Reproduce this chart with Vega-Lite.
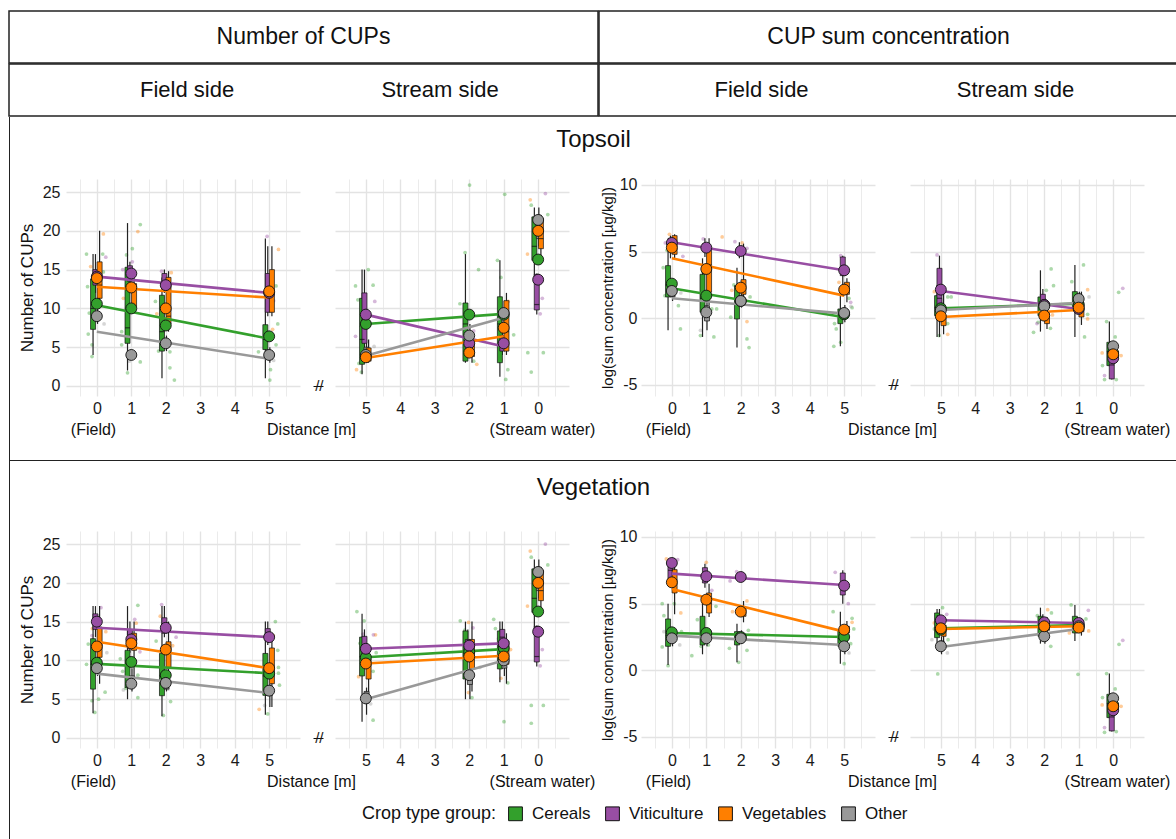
{
"$schema":"https://vega.github.io/schema/vega-lite/v6.json",
"padding":{"left":8,"top":10,"right":0,"bottom":0},
"background":"white",
"spacing":-1,
"config":{
 "font":"Liberation Sans",
 "view":{"stroke":null},
 "concat":{"spacing":0},
 "axis":{"domain":false,"ticks":false,"grid":true,"gridColor":"#e3e3e3","labelFontSize":16,"labelColor":"#1a1a1a","labelPadding":4,"titleFontSize":16,"titleFontWeight":"normal","titleColor":"#111","labelOverlap":false,"labelFlush":false,"labelBound":false}
},
"datasets":{
"pts":[
{"p":"TCF","c":"Cereals","d":-0.3,"v":17},{"p":"TCF","c":"Cereals","d":-0.27,"v":12.8},{"p":"TCF","c":"Cereals","d":-0.22,"v":9.4},{"p":"TCF","c":"Cereals","d":-0.25,"v":6.7},{"p":"TCF","c":"Cereals","d":-0.14,"v":5.3},{"p":"TCF","c":"Cereals","d":-0.14,"v":3.8},{"p":"TCF","c":"Cereals","d":0.17,"v":17},{"p":"TCF","c":"Cereals","d":0.19,"v":14.7},{"p":"TCF","c":"Cereals","d":0.72,"v":7},{"p":"TCF","c":"Cereals","d":0.86,"v":16.9},{"p":"TCF","c":"Cereals","d":1.03,"v":17.7},{"p":"TCF","c":"Cereals","d":0.72,"v":5.3},{"p":"TCF","c":"Cereals","d":0.89,"v":1.7},{"p":"TCF","c":"Cereals","d":1.26,"v":3.1},{"p":"TCF","c":"Cereals","d":1.26,"v":20.8},{"p":"TCF","c":"Cereals","d":1.7,"v":10.9},{"p":"TCF","c":"Cereals","d":2.12,"v":2.35},{"p":"TCF","c":"Cereals","d":2.25,"v":0.77},{"p":"TCF","c":"Cereals","d":2.12,"v":4.4},{"p":"TCF","c":"Cereals","d":1.79,"v":4.5},{"p":"TCF","c":"Cereals","d":4.69,"v":4.4},{"p":"TCF","c":"Cereals","d":5.04,"v":2.1},{"p":"TCF","c":"Cereals","d":5.02,"v":0.77},{"p":"TCF","c":"Cereals","d":5.2,"v":5.3},{"p":"TCF","c":"Cereals","d":5.25,"v":8},{"p":"TCF","c":"Cereals","d":5.2,"v":12.9},
{"p":"TCF","c":"Vegetables","d":0.19,"v":19.6},{"p":"TCF","c":"Vegetables","d":-0.18,"v":15.4},{"p":"TCF","c":"Vegetables","d":1.19,"v":19.9},{"p":"TCF","c":"Vegetables","d":0.77,"v":11.3},{"p":"TCF","c":"Vegetables","d":1.74,"v":9.3},{"p":"TCF","c":"Vegetables","d":2.16,"v":14.6},{"p":"TCF","c":"Vegetables","d":5.27,"v":17.6},{"p":"TCF","c":"Vegetables","d":5.1,"v":7.3},
{"p":"TCF","c":"Viticulture","d":0.26,"v":16.6},{"p":"TCF","c":"Viticulture","d":0.75,"v":15},{"p":"TCF","c":"Viticulture","d":1.03,"v":16},{"p":"TCF","c":"Viticulture","d":1.88,"v":14.8},{"p":"TCF","c":"Viticulture","d":4.94,"v":19.3},{"p":"TCF","c":"Viticulture","d":5.13,"v":11},
{"p":"TCF","c":"Other","d":0.21,"v":8},{"p":"TCF","c":"Other","d":0.94,"v":3.2},{"p":"TCF","c":"Other","d":5.13,"v":3.3},
{"p":"TCS","c":"Cereals","d":5.3,"v":12.9},{"p":"TCS","c":"Cereals","d":5.23,"v":11.1},{"p":"TCS","c":"Cereals","d":5.13,"v":7.7},{"p":"TCS","c":"Cereals","d":5.2,"v":2.9},{"p":"TCS","c":"Cereals","d":5.13,"v":1.8},{"p":"TCS","c":"Cereals","d":4.93,"v":15},{"p":"TCS","c":"Cereals","d":4.79,"v":13},{"p":"TCS","c":"Cereals","d":2.27,"v":10.6},{"p":"TCS","c":"Cereals","d":2.12,"v":17.2},{"p":"TCS","c":"Cereals","d":1.99,"v":25.9},{"p":"TCS","c":"Cereals","d":1.73,"v":15},{"p":"TCS","c":"Cereals","d":1.87,"v":3.2},{"p":"TCS","c":"Cereals","d":1.18,"v":16.2},{"p":"TCS","c":"Cereals","d":1.08,"v":14},{"p":"TCS","c":"Cereals","d":0.97,"v":24.7},{"p":"TCS","c":"Cereals","d":0.88,"v":2.1},{"p":"TCS","c":"Cereals","d":0.94,"v":0.85},{"p":"TCS","c":"Cereals","d":0.71,"v":6.6},{"p":"TCS","c":"Cereals","d":0.3,"v":4.3},{"p":"TCS","c":"Cereals","d":0.2,"v":1.8},{"p":"TCS","c":"Cereals","d":-0.15,"v":4.3},{"p":"TCS","c":"Cereals","d":0.2,"v":23.3},{"p":"TCS","c":"Cereals","d":-0.28,"v":22.1},
{"p":"TCS","c":"Vegetables","d":5.27,"v":2.1},{"p":"TCS","c":"Vegetables","d":1.78,"v":2.8},{"p":"TCS","c":"Vegetables","d":1.08,"v":3.4},{"p":"TCS","c":"Vegetables","d":0.23,"v":24},{"p":"TCS","c":"Vegetables","d":0.31,"v":17},{"p":"TCS","c":"Vegetables","d":0.87,"v":10.9},
{"p":"TCS","c":"Viticulture","d":5.3,"v":6.4},{"p":"TCS","c":"Viticulture","d":4.74,"v":10.9},{"p":"TCS","c":"Viticulture","d":1.87,"v":7.1},{"p":"TCS","c":"Viticulture","d":-0.06,"v":9.3},{"p":"TCS","c":"Viticulture","d":-0.21,"v":24.8},{"p":"TCS","c":"Viticulture","d":-0.12,"v":11.3},
{"p":"TCS","c":"Other","d":4.76,"v":5.1},
{"p":"TLF","c":"Cereals","d":-0.2,"v":1.7},{"p":"TLF","c":"Cereals","d":0.19,"v":0.95},{"p":"TLF","c":"Cereals","d":0.25,"v":-0.8},{"p":"TLF","c":"Cereals","d":-0.14,"v":5.1},{"p":"TLF","c":"Cereals","d":0.83,"v":-1.3},{"p":"TLF","c":"Cereals","d":1.16,"v":0.7},{"p":"TLF","c":"Cereals","d":1.3,"v":0.7},{"p":"TLF","c":"Cereals","d":1.22,"v":-1.4},{"p":"TLF","c":"Cereals","d":1.71,"v":0.08},{"p":"TLF","c":"Cereals","d":1.8,"v":2.5},{"p":"TLF","c":"Cereals","d":2.18,"v":-1.55},{"p":"TLF","c":"Cereals","d":2.24,"v":-2.2},{"p":"TLF","c":"Cereals","d":2.27,"v":1.6},{"p":"TLF","c":"Cereals","d":4.72,"v":-0.4},{"p":"TLF","c":"Cereals","d":4.77,"v":-0.8},{"p":"TLF","c":"Cereals","d":4.9,"v":-1.8},{"p":"TLF","c":"Cereals","d":4.7,"v":-2.1},{"p":"TLF","c":"Cereals","d":5.23,"v":0.8},{"p":"TLF","c":"Cereals","d":5.14,"v":1.5},{"p":"TLF","c":"Cereals","d":-0.25,"v":3.8},{"p":"TLF","c":"Cereals","d":0.9,"v":3.5},
{"p":"TLF","c":"Vegetables","d":-0.07,"v":6.3},{"p":"TLF","c":"Vegetables","d":1.46,"v":6.1},{"p":"TLF","c":"Vegetables","d":2.18,"v":-0.25},{"p":"TLF","c":"Vegetables","d":1.74,"v":2.1},{"p":"TLF","c":"Vegetables","d":2.04,"v":5.65},{"p":"TLF","c":"Vegetables","d":4.85,"v":2.7},
{"p":"TLF","c":"Viticulture","d":-0.19,"v":5.65},{"p":"TLF","c":"Viticulture","d":0.91,"v":5.95},{"p":"TLF","c":"Viticulture","d":1.83,"v":5.75},{"p":"TLF","c":"Viticulture","d":2.18,"v":5.25},{"p":"TLF","c":"Viticulture","d":4.9,"v":4.7},{"p":"TLF","c":"Viticulture","d":5.19,"v":1.2},{"p":"TLF","c":"Viticulture","d":0.32,"v":4.65},
{"p":"TLF","c":"Other","d":0.83,"v":-0.9},{"p":"TLF","c":"Other","d":0.26,"v":1.9},{"p":"TLF","c":"Other","d":5.2,"v":0.9},
{"p":"TLS","c":"Cereals","d":5.05,"v":-1.3},{"p":"TLS","c":"Cereals","d":4.8,"v":1.6},{"p":"TLS","c":"Cereals","d":4.7,"v":1.6},{"p":"TLS","c":"Cereals","d":4.8,"v":-0.4},{"p":"TLS","c":"Cereals","d":2.31,"v":-1.05},{"p":"TLS","c":"Cereals","d":2.18,"v":-0.3},{"p":"TLS","c":"Cereals","d":1.94,"v":2.1},{"p":"TLS","c":"Cereals","d":1.8,"v":3.7},{"p":"TLS","c":"Cereals","d":1.73,"v":2.45},{"p":"TLS","c":"Cereals","d":1.82,"v":-0.75},{"p":"TLS","c":"Cereals","d":1.2,"v":2.75},{"p":"TLS","c":"Cereals","d":0.86,"v":4},{"p":"TLS","c":"Cereals","d":0.83,"v":-1.4},{"p":"TLS","c":"Cereals","d":0.74,"v":0.3},{"p":"TLS","c":"Cereals","d":0.19,"v":-0.25},{"p":"TLS","c":"Cereals","d":0.31,"v":-3.55},{"p":"TLS","c":"Cereals","d":0.25,"v":-4.6},{"p":"TLS","c":"Cereals","d":-0.09,"v":-4.6},{"p":"TLS","c":"Cereals","d":-0.06,"v":-1.4},{"p":"TLS","c":"Cereals","d":-0.16,"v":1.95},
{"p":"TLS","c":"Vegetables","d":5.19,"v":2},{"p":"TLS","c":"Vegetables","d":4.8,"v":-1.2},{"p":"TLS","c":"Vegetables","d":1.76,"v":0.25},{"p":"TLS","c":"Vegetables","d":0.74,"v":2.15},{"p":"TLS","c":"Vegetables","d":0.74,"v":-0.05},{"p":"TLS","c":"Vegetables","d":0.32,"v":-2.6},{"p":"TLS","c":"Vegetables","d":-0.23,"v":-2.8},
{"p":"TLS","c":"Viticulture","d":5.11,"v":4.75},{"p":"TLS","c":"Viticulture","d":2.21,"v":-0.4},{"p":"TLS","c":"Viticulture","d":0.25,"v":-4.3},{"p":"TLS","c":"Viticulture","d":-0.28,"v":2.25},
{"p":"TLS","c":"Other","d":0.7,"v":1.6},
{"p":"VCF","c":"Cereals","d":-0.25,"v":12.1},{"p":"VCF","c":"Cereals","d":-0.14,"v":4.8},{"p":"VCF","c":"Cereals","d":-0.06,"v":3.3},{"p":"VCF","c":"Cereals","d":0.24,"v":5.9},{"p":"VCF","c":"Cereals","d":0.05,"v":5},{"p":"VCF","c":"Cereals","d":0.68,"v":10.2},{"p":"VCF","c":"Cereals","d":0.75,"v":8.6},{"p":"VCF","c":"Cereals","d":0.84,"v":6.4},{"p":"VCF","c":"Cereals","d":1.19,"v":5.2},{"p":"VCF","c":"Cereals","d":1.19,"v":17.1},{"p":"VCF","c":"Cereals","d":1.19,"v":8.1},{"p":"VCF","c":"Cereals","d":1.72,"v":12.5},{"p":"VCF","c":"Cereals","d":2.14,"v":4.7},{"p":"VCF","c":"Cereals","d":1.93,"v":2.9},{"p":"VCF","c":"Cereals","d":4.96,"v":3.1},{"p":"VCF","c":"Cereals","d":5.18,"v":15},{"p":"VCF","c":"Cereals","d":5.27,"v":9.1},{"p":"VCF","c":"Cereals","d":5.27,"v":8.35},{"p":"VCF","c":"Cereals","d":5.3,"v":6.8},{"p":"VCF","c":"Cereals","d":5.25,"v":11.3},{"p":"VCF","c":"Cereals","d":-0.3,"v":9.5},
{"p":"VCF","c":"Vegetables","d":-0.13,"v":14.1},{"p":"VCF","c":"Vegetables","d":0.26,"v":13.7},{"p":"VCF","c":"Vegetables","d":1.14,"v":14.8},{"p":"VCF","c":"Vegetables","d":1.84,"v":15.7},{"p":"VCF","c":"Vegetables","d":2.2,"v":11.9},{"p":"VCF","c":"Vegetables","d":4.71,"v":3.7},{"p":"VCF","c":"Vegetables","d":5.12,"v":13.2},
{"p":"VCF","c":"Viticulture","d":-0.14,"v":13.2},{"p":"VCF","c":"Viticulture","d":0.12,"v":16.8},{"p":"VCF","c":"Viticulture","d":1.1,"v":15.3},{"p":"VCF","c":"Viticulture","d":1.25,"v":11.1},{"p":"VCF","c":"Viticulture","d":1.88,"v":17.2},{"p":"VCF","c":"Viticulture","d":2.3,"v":13},
{"p":"VCF","c":"Other","d":0.29,"v":11},{"p":"VCF","c":"Other","d":0.77,"v":6.2},{"p":"VCF","c":"Other","d":2.07,"v":6.3},{"p":"VCF","c":"Other","d":4.87,"v":4.2},
{"p":"VCS","c":"Cereals","d":5.26,"v":16.3},{"p":"VCS","c":"Cereals","d":5.05,"v":15.1},{"p":"VCS","c":"Cereals","d":5.17,"v":12.2},{"p":"VCS","c":"Cereals","d":4.79,"v":8.6},{"p":"VCS","c":"Cereals","d":4.7,"v":11},{"p":"VCS","c":"Cereals","d":4.79,"v":2.3},{"p":"VCS","c":"Cereals","d":2.26,"v":15.1},{"p":"VCS","c":"Cereals","d":2.13,"v":13.9},{"p":"VCS","c":"Cereals","d":1.92,"v":5.2},{"p":"VCS","c":"Cereals","d":1.29,"v":15.3},{"p":"VCS","c":"Cereals","d":1.24,"v":14.1},{"p":"VCS","c":"Cereals","d":0.88,"v":7.1},{"p":"VCS","c":"Cereals","d":0.99,"v":2.1},{"p":"VCS","c":"Cereals","d":0.2,"v":4.2},{"p":"VCS","c":"Cereals","d":0.2,"v":1.9},{"p":"VCS","c":"Cereals","d":-0.15,"v":4.2},{"p":"VCS","c":"Cereals","d":0.2,"v":23.3},{"p":"VCS","c":"Cereals","d":-0.28,"v":22.3},
{"p":"VCS","c":"Vegetables","d":5.21,"v":7.9},{"p":"VCS","c":"Vegetables","d":4.72,"v":13.3},{"p":"VCS","c":"Vegetables","d":2.02,"v":14.9},{"p":"VCS","c":"Vegetables","d":2.02,"v":5.85},{"p":"VCS","c":"Vegetables","d":1.08,"v":7.7},{"p":"VCS","c":"Vegetables","d":0.8,"v":11.4},{"p":"VCS","c":"Vegetables","d":0.23,"v":24.1},{"p":"VCS","c":"Vegetables","d":0.31,"v":17},
{"p":"VCS","c":"Viticulture","d":5.08,"v":13.4},{"p":"VCS","c":"Viticulture","d":4.78,"v":13.3},{"p":"VCS","c":"Viticulture","d":1.89,"v":14.2},{"p":"VCS","c":"Viticulture","d":1.15,"v":12.8},{"p":"VCS","c":"Viticulture","d":-0.21,"v":25},{"p":"VCS","c":"Viticulture","d":-0.12,"v":11.4},{"p":"VCS","c":"Viticulture","d":-0.06,"v":9.3},
{"p":"VCS","c":"Other","d":4.86,"v":4.4},{"p":"VCS","c":"Other","d":1.69,"v":9.1},
{"p":"VLF","c":"Cereals","d":-0.28,"v":5},{"p":"VLF","c":"Cereals","d":-0.23,"v":4.1},{"p":"VLF","c":"Cereals","d":-0.28,"v":1.75},{"p":"VLF","c":"Cereals","d":-0.11,"v":0.35},{"p":"VLF","c":"Cereals","d":0.07,"v":5},{"p":"VLF","c":"Cereals","d":0.28,"v":2.9},{"p":"VLF","c":"Cereals","d":0.58,"v":1.1},{"p":"VLF","c":"Cereals","d":0.74,"v":3.8},{"p":"VLF","c":"Cereals","d":0.85,"v":1.8},{"p":"VLF","c":"Cereals","d":1.06,"v":1.9},{"p":"VLF","c":"Cereals","d":1.28,"v":4.8},{"p":"VLF","c":"Cereals","d":1.67,"v":1.65},{"p":"VLF","c":"Cereals","d":1.94,"v":0.6},{"p":"VLF","c":"Cereals","d":2.18,"v":1.5},{"p":"VLF","c":"Cereals","d":2.22,"v":3},{"p":"VLF","c":"Cereals","d":4.68,"v":4.4},{"p":"VLF","c":"Cereals","d":5,"v":0.5},{"p":"VLF","c":"Cereals","d":5.19,"v":2},{"p":"VLF","c":"Cereals","d":5.23,"v":3.9},{"p":"VLF","c":"Cereals","d":5.28,"v":3.1},
{"p":"VLF","c":"Vegetables","d":-0.16,"v":8.35},{"p":"VLF","c":"Vegetables","d":0.26,"v":4.3},{"p":"VLF","c":"Vegetables","d":1,"v":8.1},{"p":"VLF","c":"Vegetables","d":0.9,"v":5.05},{"p":"VLF","c":"Vegetables","d":2.18,"v":5.2},{"p":"VLF","c":"Vegetables","d":1.76,"v":4.4},{"p":"VLF","c":"Vegetables","d":5.23,"v":3.6},
{"p":"VLF","c":"Viticulture","d":-0.07,"v":8.3},{"p":"VLF","c":"Viticulture","d":0.17,"v":8.3},{"p":"VLF","c":"Viticulture","d":1.16,"v":6},{"p":"VLF","c":"Viticulture","d":1.69,"v":6.7},{"p":"VLF","c":"Viticulture","d":1.88,"v":7.4},{"p":"VLF","c":"Viticulture","d":4.74,"v":7.35},{"p":"VLF","c":"Viticulture","d":5.12,"v":5},
{"p":"VLF","c":"Other","d":-0.23,"v":2.9},{"p":"VLF","c":"Other","d":0.23,"v":1.9},{"p":"VLF","c":"Other","d":5.14,"v":1.3},
{"p":"VLS","c":"Cereals","d":5.09,"v":-0.27},{"p":"VLS","c":"Cereals","d":4.95,"v":4.7},{"p":"VLS","c":"Cereals","d":5.19,"v":3.1},{"p":"VLS","c":"Cereals","d":4.79,"v":2.3},{"p":"VLS","c":"Cereals","d":1.81,"v":1.8},{"p":"VLS","c":"Cereals","d":1.79,"v":4.3},{"p":"VLS","c":"Cereals","d":1.22,"v":4.9},{"p":"VLS","c":"Cereals","d":1.02,"v":-0.3},{"p":"VLS","c":"Cereals","d":0.79,"v":3.85},{"p":"VLS","c":"Cereals","d":2.2,"v":4.1},{"p":"VLS","c":"Cereals","d":0.19,"v":-0.25},{"p":"VLS","c":"Cereals","d":0.31,"v":-2.05},{"p":"VLS","c":"Cereals","d":0.25,"v":-4.65},{"p":"VLS","c":"Cereals","d":-0.09,"v":-4.6},{"p":"VLS","c":"Cereals","d":-0.06,"v":-1.4},{"p":"VLS","c":"Cereals","d":-0.17,"v":1.95},
{"p":"VLS","c":"Vegetables","d":5.19,"v":3.55},{"p":"VLS","c":"Vegetables","d":1.9,"v":4.55},{"p":"VLS","c":"Vegetables","d":0.71,"v":2.95},{"p":"VLS","c":"Vegetables","d":1.27,"v":2.8},{"p":"VLS","c":"Vegetables","d":0.32,"v":-2.6},{"p":"VLS","c":"Vegetables","d":-0.23,"v":-2.7},
{"p":"VLS","c":"Viticulture","d":4.83,"v":4.2},{"p":"VLS","c":"Viticulture","d":0.72,"v":4.5},{"p":"VLS","c":"Viticulture","d":0.25,"v":-4.3},{"p":"VLS","c":"Viticulture","d":-0.28,"v":2.25},
{"p":"VLS","c":"Other","d":5.26,"v":2.3},{"p":"VLS","c":"Other","d":4.81,"v":1.3}
],
"box":[
{"p":"TCF","c":"Cereals","d":0,"lo":4,"q1":7.3,"md":10,"q3":13.8,"hi":17},{"p":"TCF","c":"Viticulture","d":0,"lo":12,"q1":13,"md":14,"q3":15,"hi":17},{"p":"TCF","c":"Other","d":0,"lo":8,"q1":8.5,"md":9,"q3":9.5,"hi":10},{"p":"TCF","c":"Vegetables","d":0,"lo":11,"q1":11.3,"md":13,"q3":16,"hi":20},
{"p":"TCF","c":"Cereals","d":1,"lo":2,"q1":5.5,"md":7.5,"q3":15.3,"hi":21},{"p":"TCF","c":"Viticulture","d":1,"lo":13,"q1":13.5,"md":14.5,"q3":15.5,"hi":16},{"p":"TCF","c":"Other","d":1,"lo":3.5,"q1":3.7,"md":4,"q3":4.3,"hi":4.5},{"p":"TCF","c":"Vegetables","d":1,"lo":10,"q1":10.2,"md":12.5,"q3":13.2,"hi":15},
{"p":"TCF","c":"Cereals","d":2,"lo":1,"q1":4.5,"md":7,"q3":11.7,"hi":14},{"p":"TCF","c":"Viticulture","d":2,"lo":12,"q1":12.5,"md":13,"q3":14.5,"hi":15},{"p":"TCF","c":"Other","d":2,"lo":4.5,"q1":5,"md":5.5,"q3":6,"hi":6.5},{"p":"TCF","c":"Vegetables","d":2,"lo":7,"q1":8,"md":9,"q3":14,"hi":14.8},
{"p":"TCF","c":"Cereals","d":5,"lo":1,"q1":4.7,"md":6,"q3":7.9,"hi":19},{"p":"TCF","c":"Viticulture","d":5,"lo":9,"q1":9.5,"md":12,"q3":14.5,"hi":18},{"p":"TCF","c":"Other","d":5,"lo":3,"q1":3.5,"md":4,"q3":4.5,"hi":5},{"p":"TCF","c":"Vegetables","d":5,"lo":9,"q1":9.5,"md":12,"q3":15,"hi":18},
{"p":"TCS","c":"Cereals","d":5,"lo":1.5,"q1":2.8,"md":6,"q3":11.3,"hi":15},{"p":"TCS","c":"Viticulture","d":5,"lo":5,"q1":5.5,"md":8,"q3":12,"hi":15},{"p":"TCS","c":"Other","d":5,"lo":3,"q1":3.5,"md":4,"q3":5,"hi":6},{"p":"TCS","c":"Vegetables","d":5,"lo":3,"q1":3.2,"md":4,"q3":4.9,"hi":6},
{"p":"TCS","c":"Cereals","d":2,"lo":3,"q1":3.2,"md":8,"q3":10.7,"hi":17},{"p":"TCS","c":"Viticulture","d":2,"lo":4,"q1":4.5,"md":5,"q3":6,"hi":7},{"p":"TCS","c":"Other","d":2,"lo":4,"q1":4.5,"md":6.5,"q3":7,"hi":8},{"p":"TCS","c":"Vegetables","d":2,"lo":3,"q1":3.8,"md":4.5,"q3":5.5,"hi":6},
{"p":"TCS","c":"Cereals","d":1,"lo":1.2,"q1":3,"md":8,"q3":11.5,"hi":16.2},{"p":"TCS","c":"Viticulture","d":1,"lo":4,"q1":4.5,"md":5.5,"q3":6.5,"hi":7},{"p":"TCS","c":"Other","d":1,"lo":7,"q1":8,"md":9,"q3":10,"hi":11},{"p":"TCS","c":"Vegetables","d":1,"lo":4,"q1":4.5,"md":7,"q3":11,"hi":12},
{"p":"TCS","c":"Cereals","d":0,"lo":14,"q1":16.2,"md":18,"q3":21.8,"hi":23},{"p":"TCS","c":"Viticulture","d":0,"lo":9.2,"q1":9.8,"md":10.5,"q3":14.4,"hi":14.5},{"p":"TCS","c":"Other","d":0,"lo":18,"q1":19,"md":21,"q3":22,"hi":23},{"p":"TCS","c":"Vegetables","d":0,"lo":16,"q1":17.7,"md":19,"q3":21.6,"hi":22},
{"p":"TLF","c":"Cereals","d":0,"lo":-0.9,"q1":1.6,"md":2.5,"q3":3.95,"hi":5.5},{"p":"TLF","c":"Viticulture","d":0,"lo":4.5,"q1":5.2,"md":5.6,"q3":6,"hi":6.2},{"p":"TLF","c":"Other","d":0,"lo":1.3,"q1":1.6,"md":2,"q3":2.4,"hi":2.8},{"p":"TLF","c":"Vegetables","d":0,"lo":4.5,"q1":4.8,"md":5.4,"q3":6.2,"hi":6.3},
{"p":"TLF","c":"Cereals","d":1,"lo":-1.4,"q1":0.45,"md":1.5,"q3":3.3,"hi":4.5},{"p":"TLF","c":"Viticulture","d":1,"lo":4.6,"q1":5,"md":5.3,"q3":5.6,"hi":6},{"p":"TLF","c":"Other","d":1,"lo":-0.9,"q1":-0.2,"md":0.4,"q3":0.95,"hi":1.2},{"p":"TLF","c":"Vegetables","d":1,"lo":1,"q1":1.95,"md":4,"q3":5.1,"hi":6},
{"p":"TLF","c":"Cereals","d":2,"lo":-2.2,"q1":-0.05,"md":1.2,"q3":2.45,"hi":3.8},{"p":"TLF","c":"Viticulture","d":2,"lo":4.5,"q1":4.8,"md":5,"q3":5.3,"hi":5.7},{"p":"TLF","c":"Other","d":2,"lo":0.8,"q1":1,"md":1.3,"q3":1.6,"hi":2},{"p":"TLF","c":"Vegetables","d":2,"lo":1.2,"q1":1.8,"md":2.3,"q3":2.9,"hi":5.6},
{"p":"TLF","c":"Cereals","d":5,"lo":-2.1,"q1":-0.4,"md":0.2,"q3":0.7,"hi":2},{"p":"TLF","c":"Viticulture","d":5,"lo":2.5,"q1":3.2,"md":3.8,"q3":4.6,"hi":4.7},{"p":"TLF","c":"Other","d":5,"lo":-0.3,"q1":0,"md":0.4,"q3":0.6,"hi":1},{"p":"TLF","c":"Vegetables","d":5,"lo":1.2,"q1":1.8,"md":2.2,"q3":2.7,"hi":3},
{"p":"TLS","c":"Cereals","d":5,"lo":-1.4,"q1":0.2,"md":0.8,"q3":1.7,"hi":2.5},{"p":"TLS","c":"Viticulture","d":5,"lo":-1.4,"q1":0.2,"md":1.5,"q3":3.75,"hi":4.7},{"p":"TLS","c":"Other","d":5,"lo":0,"q1":0.3,"md":0.6,"q3":1,"hi":1.5},{"p":"TLS","c":"Vegetables","d":5,"lo":-1.2,"q1":-0.55,"md":0,"q3":0.2,"hi":2},
{"p":"TLS","c":"Cereals","d":2,"lo":-1,"q1":0.2,"md":1,"q3":1.6,"hi":3.6},{"p":"TLS","c":"Viticulture","d":2,"lo":0.3,"q1":0.7,"md":1,"q3":1.8,"hi":2.2},{"p":"TLS","c":"Other","d":2,"lo":0.3,"q1":0.6,"md":0.9,"q3":1.2,"hi":1.5},{"p":"TLS","c":"Vegetables","d":2,"lo":-0.8,"q1":-0.4,"md":0.1,"q3":0.45,"hi":1},
{"p":"TLS","c":"Cereals","d":1,"lo":-1.4,"q1":0.8,"md":1.2,"q3":2,"hi":4},{"p":"TLS","c":"Viticulture","d":1,"lo":0.3,"q1":0.5,"md":0.7,"q3":1,"hi":1.2},{"p":"TLS","c":"Other","d":1,"lo":0.9,"q1":1.1,"md":1.4,"q3":1.8,"hi":2},{"p":"TLS","c":"Vegetables","d":1,"lo":-0.5,"q1":0.1,"md":0.7,"q3":1.2,"hi":2},
{"p":"TLS","c":"Cereals","d":0,"lo":-3.6,"q1":-3.55,"md":-2.5,"q3":-1.8,"hi":-0.25},{"p":"TLS","c":"Viticulture","d":0,"lo":-4.6,"q1":-4.55,"md":-3.5,"q3":-2.4,"hi":-2.2},{"p":"TLS","c":"Other","d":0,"lo":-2.6,"q1":-2.5,"md":-2.1,"q3":-1.9,"hi":-1.8},{"p":"TLS","c":"Vegetables","d":0,"lo":-3,"q1":-2.9,"md":-2.7,"q3":-2.5,"hi":-2.3},
{"p":"VCF","c":"Cereals","d":0,"lo":3.2,"q1":6.3,"md":9.5,"q3":12.8,"hi":17},{"p":"VCF","c":"Viticulture","d":0,"lo":13,"q1":14,"md":15,"q3":16,"hi":17},{"p":"VCF","c":"Other","d":0,"lo":8,"q1":8.5,"md":9,"q3":10,"hi":11},{"p":"VCF","c":"Vegetables","d":0,"lo":7,"q1":10.4,"md":12,"q3":14.3,"hi":17},
{"p":"VCF","c":"Cereals","d":1,"lo":5,"q1":6.5,"md":9.5,"q3":11.3,"hi":17},{"p":"VCF","c":"Viticulture","d":1,"lo":11,"q1":11.5,"md":12.5,"q3":14,"hi":15},{"p":"VCF","c":"Other","d":1,"lo":6,"q1":6.5,"md":7,"q3":8,"hi":9},{"p":"VCF","c":"Vegetables","d":1,"lo":7,"q1":11.3,"md":12,"q3":13.5,"hi":15},
{"p":"VCF","c":"Cereals","d":2,"lo":2.8,"q1":5.45,"md":8,"q3":10.9,"hi":17},{"p":"VCF","c":"Viticulture","d":2,"lo":13,"q1":13.5,"md":14.5,"q3":15.5,"hi":17},{"p":"VCF","c":"Other","d":2,"lo":6,"q1":6.3,"md":7,"q3":7.5,"hi":8},{"p":"VCF","c":"Vegetables","d":2,"lo":8,"q1":9.1,"md":11,"q3":12.4,"hi":15},
{"p":"VCF","c":"Cereals","d":5,"lo":3,"q1":5.5,"md":8,"q3":10.9,"hi":15},{"p":"VCF","c":"Viticulture","d":5,"lo":12,"q1":12.6,"md":13,"q3":14.1,"hi":15},{"p":"VCF","c":"Other","d":5,"lo":4,"q1":5.5,"md":6,"q3":6.5,"hi":7},{"p":"VCF","c":"Vegetables","d":5,"lo":4,"q1":7,"md":9,"q3":11.6,"hi":13.5},
{"p":"VCS","c":"Cereals","d":5,"lo":2.1,"q1":8,"md":10.5,"q3":13,"hi":16},{"p":"VCS","c":"Viticulture","d":5,"lo":9,"q1":10.4,"md":11.5,"q3":13.1,"hi":14},{"p":"VCS","c":"Other","d":5,"lo":3,"q1":4.5,"md":5,"q3":6,"hi":6.5},{"p":"VCS","c":"Vegetables","d":5,"lo":5,"q1":7.6,"md":9.5,"q3":10.2,"hi":12},
{"p":"VCS","c":"Cereals","d":2,"lo":5,"q1":7.6,"md":11,"q3":13.8,"hi":15},{"p":"VCS","c":"Viticulture","d":2,"lo":10,"q1":11,"md":12,"q3":12.7,"hi":14},{"p":"VCS","c":"Other","d":2,"lo":5,"q1":6.9,"md":7.5,"q3":8,"hi":9},{"p":"VCS","c":"Vegetables","d":2,"lo":6,"q1":8.9,"md":10.5,"q3":12.7,"hi":15},
{"p":"VCS","c":"Cereals","d":1,"lo":7.2,"q1":8.9,"md":11.5,"q3":13.8,"hi":15},{"p":"VCS","c":"Viticulture","d":1,"lo":11,"q1":12.5,"md":13,"q3":14,"hi":15},{"p":"VCS","c":"Other","d":1,"lo":8,"q1":9,"md":10,"q3":11,"hi":12},{"p":"VCS","c":"Vegetables","d":1,"lo":7,"q1":9.5,"md":10.5,"q3":12.5,"hi":13.5},
{"p":"VCS","c":"Cereals","d":0,"lo":14,"q1":16.2,"md":18,"q3":21.8,"hi":23},{"p":"VCS","c":"Viticulture","d":0,"lo":9.2,"q1":9.8,"md":10.5,"q3":14.4,"hi":14.5},{"p":"VCS","c":"Other","d":0,"lo":18,"q1":19,"md":21,"q3":22,"hi":23},{"p":"VCS","c":"Vegetables","d":0,"lo":16,"q1":17.7,"md":19,"q3":21.6,"hi":22},
{"p":"VLF","c":"Cereals","d":0,"lo":0.4,"q1":1.8,"md":2.6,"q3":3.85,"hi":5},{"p":"VLF","c":"Viticulture","d":0,"lo":6.5,"q1":6.7,"md":7.5,"q3":8.2,"hi":8.4},{"p":"VLF","c":"Other","d":0,"lo":1.8,"q1":2.1,"md":2.4,"q3":2.8,"hi":3.2},{"p":"VLF","c":"Vegetables","d":0,"lo":4.2,"q1":5.8,"md":6.8,"q3":7.55,"hi":8.4},
{"p":"VLF","c":"Cereals","d":1,"lo":1.2,"q1":1.9,"md":2.8,"q3":4.05,"hi":5},{"p":"VLF","c":"Viticulture","d":1,"lo":6.2,"q1":6.55,"md":7,"q3":7.7,"hi":8},{"p":"VLF","c":"Other","d":1,"lo":1.8,"q1":2.1,"md":2.4,"q3":2.8,"hi":3.2},{"p":"VLF","c":"Vegetables","d":1,"lo":4,"q1":4.3,"md":5,"q3":5.8,"hi":6.5},
{"p":"VLF","c":"Cereals","d":2,"lo":0.6,"q1":1.9,"md":2.4,"q3":2.9,"hi":3.5},{"p":"VLF","c":"Viticulture","d":2,"lo":6.8,"q1":6.9,"md":7,"q3":7.1,"hi":7.2},{"p":"VLF","c":"Other","d":2,"lo":2,"q1":2.2,"md":2.4,"q3":2.7,"hi":3},{"p":"VLF","c":"Vegetables","d":2,"lo":3.6,"q1":4.05,"md":4.4,"q3":4.7,"hi":5.2},
{"p":"VLF","c":"Cereals","d":5,"lo":0.5,"q1":1.8,"md":2.4,"q3":3.05,"hi":4.4},{"p":"VLF","c":"Viticulture","d":5,"lo":5,"q1":5.65,"md":6.4,"q3":7.3,"hi":7.5},{"p":"VLF","c":"Other","d":5,"lo":1.2,"q1":1.5,"md":1.8,"q3":2.2,"hi":2.5},{"p":"VLF","c":"Vegetables","d":5,"lo":2.5,"q1":2.8,"md":3,"q3":3.3,"hi":3.7},
{"p":"VLS","c":"Cereals","d":5,"lo":1.5,"q1":2.45,"md":3.2,"q3":4.3,"hi":4.6},{"p":"VLS","c":"Viticulture","d":5,"lo":3,"q1":3.4,"md":3.7,"q3":4.1,"hi":4.6},{"p":"VLS","c":"Other","d":5,"lo":1.2,"q1":1.5,"md":1.8,"q3":2.2,"hi":2.5},{"p":"VLS","c":"Vegetables","d":5,"lo":2,"q1":2.55,"md":3,"q3":3.4,"hi":3.8},
{"p":"VLS","c":"Cereals","d":2,"lo":2,"q1":2.55,"md":3.3,"q3":4.05,"hi":4.7},{"p":"VLS","c":"Viticulture","d":2,"lo":3,"q1":3.2,"md":3.6,"q3":3.9,"hi":4.2},{"p":"VLS","c":"Other","d":2,"lo":2,"q1":2.3,"md":2.6,"q3":2.9,"hi":3.2},{"p":"VLS","c":"Vegetables","d":2,"lo":2.6,"q1":3,"md":3.3,"q3":3.6,"hi":4},
{"p":"VLS","c":"Cereals","d":1,"lo":2.2,"q1":2.8,"md":3.3,"q3":4.05,"hi":4.9},{"p":"VLS","c":"Viticulture","d":1,"lo":3.1,"q1":3.3,"md":3.6,"q3":3.8,"hi":4},{"p":"VLS","c":"Other","d":1,"lo":2.8,"q1":3,"md":3.3,"q3":3.6,"hi":3.8},{"p":"VLS","c":"Vegetables","d":1,"lo":2.6,"q1":2.9,"md":3.2,"q3":3.5,"hi":3.9},
{"p":"VLS","c":"Cereals","d":0,"lo":-3.6,"q1":-3.55,"md":-2.5,"q3":-1.8,"hi":-0.25},{"p":"VLS","c":"Viticulture","d":0,"lo":-4.6,"q1":-4.55,"md":-3.5,"q3":-2.4,"hi":-2.2},{"p":"VLS","c":"Other","d":0,"lo":-2.6,"q1":-2.5,"md":-2.1,"q3":-1.9,"hi":-1.8},{"p":"VLS","c":"Vegetables","d":0,"lo":-3,"q1":-2.9,"md":-2.7,"q3":-2.5,"hi":-2.3}
],
"mean":[
{"p":"TCF","c":"Cereals","d":0,"v":10.6},{"p":"TCF","c":"Viticulture","d":0,"v":14.1},{"p":"TCF","c":"Other","d":0,"v":9},{"p":"TCF","c":"Vegetables","d":0,"v":13.9},
{"p":"TCF","c":"Cereals","d":1,"v":10},{"p":"TCF","c":"Viticulture","d":1,"v":14.5},{"p":"TCF","c":"Other","d":1,"v":4},{"p":"TCF","c":"Vegetables","d":1,"v":12.7},
{"p":"TCF","c":"Cereals","d":2,"v":7.8},{"p":"TCF","c":"Viticulture","d":2,"v":13},{"p":"TCF","c":"Other","d":2,"v":5.5},{"p":"TCF","c":"Vegetables","d":2,"v":10},
{"p":"TCF","c":"Cereals","d":5,"v":6.4},{"p":"TCF","c":"Viticulture","d":5,"v":12},{"p":"TCF","c":"Other","d":5,"v":4},{"p":"TCF","c":"Vegetables","d":5,"v":12.2},
{"p":"TCS","c":"Cereals","d":5,"v":8},{"p":"TCS","c":"Viticulture","d":5,"v":9.2},{"p":"TCS","c":"Other","d":5,"v":4},{"p":"TCS","c":"Vegetables","d":5,"v":3.7},
{"p":"TCS","c":"Cereals","d":2,"v":9.2},{"p":"TCS","c":"Viticulture","d":2,"v":5.5},{"p":"TCS","c":"Other","d":2,"v":6.5},{"p":"TCS","c":"Vegetables","d":2,"v":4.3},
{"p":"TCS","c":"Cereals","d":1,"v":9.2},{"p":"TCS","c":"Viticulture","d":1,"v":5.5},{"p":"TCS","c":"Other","d":1,"v":9.4},{"p":"TCS","c":"Vegetables","d":1,"v":7.5},
{"p":"TCS","c":"Cereals","d":0,"v":16.3},{"p":"TCS","c":"Viticulture","d":0,"v":13.7},{"p":"TCS","c":"Other","d":0,"v":21.4},{"p":"TCS","c":"Vegetables","d":0,"v":20},
{"p":"TLF","c":"Cereals","d":0,"v":2.6},{"p":"TLF","c":"Viticulture","d":0,"v":5.65},{"p":"TLF","c":"Other","d":0,"v":2.05},{"p":"TLF","c":"Vegetables","d":0,"v":5.3},
{"p":"TLF","c":"Cereals","d":1,"v":1.7},{"p":"TLF","c":"Viticulture","d":1,"v":5.3},{"p":"TLF","c":"Other","d":1,"v":0.45},{"p":"TLF","c":"Vegetables","d":1,"v":3.7},
{"p":"TLF","c":"Cereals","d":2,"v":1.3},{"p":"TLF","c":"Viticulture","d":2,"v":5.05},{"p":"TLF","c":"Other","d":2,"v":1.3},{"p":"TLF","c":"Vegetables","d":2,"v":2.3},
{"p":"TLF","c":"Cereals","d":5,"v":0.3},{"p":"TLF","c":"Viticulture","d":5,"v":3.6},{"p":"TLF","c":"Other","d":5,"v":0.4},{"p":"TLF","c":"Vegetables","d":5,"v":2.15},
{"p":"TLS","c":"Cereals","d":5,"v":0.75},{"p":"TLS","c":"Viticulture","d":5,"v":2.15},{"p":"TLS","c":"Other","d":5,"v":0.6},{"p":"TLS","c":"Vegetables","d":5,"v":0.15},
{"p":"TLS","c":"Cereals","d":2,"v":1},{"p":"TLS","c":"Viticulture","d":2,"v":1},{"p":"TLS","c":"Other","d":2,"v":0.9},{"p":"TLS","c":"Vegetables","d":2,"v":0.2},
{"p":"TLS","c":"Cereals","d":1,"v":1},{"p":"TLS","c":"Viticulture","d":1,"v":0.7},{"p":"TLS","c":"Other","d":1,"v":1.45},{"p":"TLS","c":"Vegetables","d":1,"v":0.8},
{"p":"TLS","c":"Cereals","d":0,"v":-2.6},{"p":"TLS","c":"Viticulture","d":0,"v":-3},{"p":"TLS","c":"Other","d":0,"v":-2.1},{"p":"TLS","c":"Vegetables","d":0,"v":-2.7},
{"p":"VCF","c":"Cereals","d":0,"v":9.7},{"p":"VCF","c":"Viticulture","d":0,"v":15},{"p":"VCF","c":"Other","d":0,"v":9},{"p":"VCF","c":"Vegetables","d":0,"v":11.8},
{"p":"VCF","c":"Cereals","d":1,"v":9.8},{"p":"VCF","c":"Viticulture","d":1,"v":12.7},{"p":"VCF","c":"Other","d":1,"v":7},{"p":"VCF","c":"Vegetables","d":1,"v":12.2},
{"p":"VCF","c":"Cereals","d":2,"v":8.1},{"p":"VCF","c":"Viticulture","d":2,"v":14.2},{"p":"VCF","c":"Other","d":2,"v":7.1},{"p":"VCF","c":"Vegetables","d":2,"v":11.4},
{"p":"VCF","c":"Cereals","d":5,"v":8.3},{"p":"VCF","c":"Viticulture","d":5,"v":13},{"p":"VCF","c":"Other","d":5,"v":6.1},{"p":"VCF","c":"Vegetables","d":5,"v":9},
{"p":"VCS","c":"Cereals","d":5,"v":10.4},{"p":"VCS","c":"Viticulture","d":5,"v":11.5},{"p":"VCS","c":"Other","d":5,"v":5.1},{"p":"VCS","c":"Vegetables","d":5,"v":9.6},
{"p":"VCS","c":"Cereals","d":2,"v":11.1},{"p":"VCS","c":"Viticulture","d":2,"v":11.9},{"p":"VCS","c":"Other","d":2,"v":8.1},{"p":"VCS","c":"Vegetables","d":2,"v":10.5},
{"p":"VCS","c":"Cereals","d":1,"v":11.6},{"p":"VCS","c":"Viticulture","d":1,"v":12.2},{"p":"VCS","c":"Other","d":1,"v":10},{"p":"VCS","c":"Vegetables","d":1,"v":10.5},
{"p":"VCS","c":"Cereals","d":0,"v":16.3},{"p":"VCS","c":"Viticulture","d":0,"v":13.7},{"p":"VCS","c":"Other","d":0,"v":21.4},{"p":"VCS","c":"Vegetables","d":0,"v":20},
{"p":"VLF","c":"Cereals","d":0,"v":2.85},{"p":"VLF","c":"Viticulture","d":0,"v":8.05},{"p":"VLF","c":"Other","d":0,"v":2.4},{"p":"VLF","c":"Vegetables","d":0,"v":6.6},
{"p":"VLF","c":"Cereals","d":1,"v":2.8},{"p":"VLF","c":"Viticulture","d":1,"v":7.05},{"p":"VLF","c":"Other","d":1,"v":2.4},{"p":"VLF","c":"Vegetables","d":1,"v":5.3},
{"p":"VLF","c":"Cereals","d":2,"v":2.5},{"p":"VLF","c":"Viticulture","d":2,"v":7},{"p":"VLF","c":"Other","d":2,"v":2.4},{"p":"VLF","c":"Vegetables","d":2,"v":4.4},
{"p":"VLF","c":"Cereals","d":5,"v":2.5},{"p":"VLF","c":"Viticulture","d":5,"v":6.35},{"p":"VLF","c":"Other","d":5,"v":1.8},{"p":"VLF","c":"Vegetables","d":5,"v":3.05},
{"p":"VLS","c":"Cereals","d":5,"v":3.05},{"p":"VLS","c":"Viticulture","d":5,"v":3.75},{"p":"VLS","c":"Other","d":5,"v":1.8},{"p":"VLS","c":"Vegetables","d":5,"v":3.15},
{"p":"VLS","c":"Cereals","d":2,"v":3.3},{"p":"VLS","c":"Viticulture","d":2,"v":3.6},{"p":"VLS","c":"Other","d":2,"v":2.55},{"p":"VLS","c":"Vegetables","d":2,"v":3.3},
{"p":"VLS","c":"Cereals","d":1,"v":3.35},{"p":"VLS","c":"Viticulture","d":1,"v":3.55},{"p":"VLS","c":"Other","d":1,"v":3.3},{"p":"VLS","c":"Vegetables","d":1,"v":3.2},
{"p":"VLS","c":"Cereals","d":0,"v":-2.6},{"p":"VLS","c":"Viticulture","d":0,"v":-3},{"p":"VLS","c":"Other","d":0,"v":-2.1},{"p":"VLS","c":"Vegetables","d":0,"v":-2.7}
],
"fit":[
{"p":"TCF","c":"Cereals","d":0,"v":10.4},{"p":"TCF","c":"Cereals","d":5,"v":6.1},{"p":"TCF","c":"Viticulture","d":0,"v":14.1},{"p":"TCF","c":"Viticulture","d":5,"v":12},{"p":"TCF","c":"Other","d":0,"v":7},{"p":"TCF","c":"Other","d":5,"v":3.5},{"p":"TCF","c":"Vegetables","d":0,"v":12.8},{"p":"TCF","c":"Vegetables","d":5,"v":11.4},
{"p":"TCS","c":"Cereals","d":5,"v":8},{"p":"TCS","c":"Cereals","d":1,"v":9.3},{"p":"TCS","c":"Viticulture","d":5,"v":9.2},{"p":"TCS","c":"Viticulture","d":1,"v":5.1},{"p":"TCS","c":"Other","d":5,"v":3.9},{"p":"TCS","c":"Other","d":1,"v":8.8},{"p":"TCS","c":"Vegetables","d":5,"v":3.6},{"p":"TCS","c":"Vegetables","d":1,"v":6.4},
{"p":"TLF","c":"Cereals","d":0,"v":2.25},{"p":"TLF","c":"Cereals","d":5,"v":0.08},{"p":"TLF","c":"Viticulture","d":0,"v":5.7},{"p":"TLF","c":"Viticulture","d":5,"v":3.6},{"p":"TLF","c":"Other","d":0,"v":1.5},{"p":"TLF","c":"Other","d":5,"v":0.35},{"p":"TLF","c":"Vegetables","d":0,"v":4.5},{"p":"TLF","c":"Vegetables","d":5,"v":1.7},
{"p":"TLS","c":"Cereals","d":5,"v":0.75},{"p":"TLS","c":"Cereals","d":1,"v":1.1},{"p":"TLS","c":"Viticulture","d":5,"v":2.05},{"p":"TLS","c":"Viticulture","d":1,"v":0.7},{"p":"TLS","c":"Other","d":5,"v":0.62},{"p":"TLS","c":"Other","d":1,"v":1.15},{"p":"TLS","c":"Vegetables","d":5,"v":0.1},{"p":"TLS","c":"Vegetables","d":1,"v":0.62},
{"p":"VCF","c":"Cereals","d":0,"v":9.55},{"p":"VCF","c":"Cereals","d":5,"v":8.35},{"p":"VCF","c":"Viticulture","d":0,"v":14.2},{"p":"VCF","c":"Viticulture","d":5,"v":13},{"p":"VCF","c":"Other","d":0,"v":8.3},{"p":"VCF","c":"Other","d":5,"v":5.8},{"p":"VCF","c":"Vegetables","d":0,"v":12.4},{"p":"VCF","c":"Vegetables","d":5,"v":9},
{"p":"VCS","c":"Cereals","d":5,"v":10.4},{"p":"VCS","c":"Cereals","d":1,"v":11.45},{"p":"VCS","c":"Viticulture","d":5,"v":11.5},{"p":"VCS","c":"Viticulture","d":1,"v":12.2},{"p":"VCS","c":"Other","d":5,"v":5},{"p":"VCS","c":"Other","d":1,"v":10},{"p":"VCS","c":"Vegetables","d":5,"v":9.6},{"p":"VCS","c":"Vegetables","d":1,"v":10.6},
{"p":"VLF","c":"Cereals","d":0,"v":2.8},{"p":"VLF","c":"Cereals","d":5,"v":2.5},{"p":"VLF","c":"Viticulture","d":0,"v":7.25},{"p":"VLF","c":"Viticulture","d":5,"v":6.4},{"p":"VLF","c":"Other","d":0,"v":2.6},{"p":"VLF","c":"Other","d":5,"v":1.9},{"p":"VLF","c":"Vegetables","d":0,"v":6.1},{"p":"VLF","c":"Vegetables","d":5,"v":2.9},
{"p":"VLS","c":"Cereals","d":5,"v":3.15},{"p":"VLS","c":"Cereals","d":1,"v":3.4},{"p":"VLS","c":"Viticulture","d":5,"v":3.75},{"p":"VLS","c":"Viticulture","d":1,"v":3.55},{"p":"VLS","c":"Other","d":5,"v":1.75},{"p":"VLS","c":"Other","d":1,"v":3.1},{"p":"VLS","c":"Vegetables","d":5,"v":3.1},{"p":"VLS","c":"Vegetables","d":1,"v":3.3}
]
},
"vconcat":[
 {"spacing":-1.5,"hconcat":[
  {"width":589,"height":52,"view":{"stroke":"#222","strokeWidth":1.5},"data":{"values":[{"t":"Number of CUPs"}]},"mark":{"type":"text","fontSize":23,"color":"#111"},"encoding":{"text":{"field":"t"}}},
  {"width":579,"height":52,"view":{"stroke":"#222","strokeWidth":1.5},"data":{"values":[{"t":"CUP sum concentration"}]},"mark":{"type":"text","fontSize":23,"color":"#111"},"encoding":{"text":{"field":"t"}}}
 ]},
 {"spacing":-1.5,"hconcat":[
  {"width":589,"height":52,"view":{"stroke":"#222","strokeWidth":1.5},"data":{"values":[{"t":"Field side"},{"t":"Stream side"}]},"mark":{"type":"text","fontSize":22,"color":"#111"},"encoding":{"x":{"field":"t","type":"nominal","axis":null,"scale":{"type":"point","padding":0.664,"align":0.53}},"text":{"field":"t"}}},
  {"width":579,"height":52,"view":{"stroke":"#222","strokeWidth":1.5},"data":{"values":[{"t":"Field side"},{"t":"Stream side"}]},"mark":{"type":"text","fontSize":22,"color":"#111"},"encoding":{"x":{"field":"t","type":"nominal","axis":null,"scale":{"type":"point","padding":0.64,"align":0.5}},"text":{"field":"t"}}}
 ]},
 {"hconcat":[
  {"width":1,"height":343,"view":{"fill":"#222","stroke":null},"data":{"values":[]},"mark":"point"},
  {"vconcat":[
   {"width":1167,"height":46,"data":{"values":[{"t":"Topsoil"}]},"mark":{"type":"text","fontSize":24,"color":"#111"},"encoding":{"text":{"field":"t"}}},
   {"bounds":"flush","spacing":35,"hconcat":[
    {"width":21,"height":217,"data":{"values":[]},"mark":"point"},
    {"width":234,"height":217,"resolve":{"axis":{"x":"independent"}},"layer":[
     {"data":{"name":"pts"},"transform":[{"filter":"datum.p=='TCF'"}],"mark":{"type":"circle","size":14,"opacity":0.4},
      "encoding":{
       "x":{"field":"d","type":"quantitative","scale":{"domain":[-0.75,5.75],"nice":false,"zero":false},"axis":{"values":[0,1,2,3,4,5],"format":"d","gridWidth":1.4,"title":"(Field)","titleX":27,"titleY":33,"titleBaseline":"middle","titleAlign":"center"}},
       "y":{"field":"v","type":"quantitative","scale":{"domain":[-1.29,26.68],"nice":false,"zero":false},"axis":{"values":[0,2.5,5,7.5,10,12.5,15,17.5,20,22.5,25],"labelExpr":"datum.value % 5 ? '' : '' + datum.value","gridWidth":{"condition":{"test":"datum.value % 5 != 0","value":0.7},"value":1.4},"title":"Number of CUPs","titleFontSize":17,"labelPadding":6,"titlePadding":6}},
       "color":{"field":"c","type":"nominal","scale":{"domain":["Cereals","Viticulture","Vegetables","Other"],"range":["#33a02c","#984ea3","#ff7f00","#999999"]},"legend":null}}},
     {"data":{"name":"box"},"transform":[{"filter":"datum.p=='TCF'"},{"calculate":"datum.d + (datum.c=='Cereals' ? -0.11 : datum.c=='Viticulture' ? -0.04 : datum.c=='Other' ? 0.02 : 0.08)","as":"d"}],
      "encoding":{"x":{"field":"d","type":"quantitative","axis":null}},
      "layer":[
       {"mark":{"type":"rule","color":"#222","strokeWidth":1.2},"encoding":{"y":{"field":"lo","type":"quantitative"},"y2":{"field":"hi"}}},
       {"mark":{"type":"bar","orient":"vertical","width":5,"stroke":"#111","strokeWidth":0.7},"encoding":{"y":{"field":"q1","type":"quantitative"},"y2":{"field":"q3"},"color":{"field":"c","type":"nominal","scale":{"domain":["Cereals","Viticulture","Vegetables","Other"],"range":["#33a02c","#984ea3","#ff7f00","#999999"]},"legend":null}}},
       {"mark":{"type":"tick","orient":"horizontal","size":5,"thickness":1.2,"color":"#111"},"encoding":{"y":{"field":"md","type":"quantitative"}}}
      ]},
     {"data":{"name":"fit"},"transform":[{"filter":"datum.p=='TCF'"}],"mark":{"type":"line","strokeWidth":2.6},"encoding":{"x":{"field":"d","type":"quantitative","axis":{"orient":"top","values":[-0.5,0.5,1.5,2.5,3.5,4.5,5.5],"labels":false,"ticks":false,"domain":false,"title":null,"grid":true,"gridWidth":0.7}},"y":{"field":"v","type":"quantitative"},"color":{"field":"c","type":"nominal","scale":{"domain":["Cereals","Viticulture","Vegetables","Other"],"range":["#33a02c","#984ea3","#ff7f00","#999999"]},"legend":null}}},
     {"data":{"name":"mean"},"transform":[{"filter":"datum.p=='TCF'"}],"mark":{"type":"point","filled":true,"size":120,"stroke":"#111","strokeWidth":0.9,"opacity":1},"encoding":{"x":{"field":"d","type":"quantitative","axis":null},"y":{"field":"v","type":"quantitative"},"fill":{"field":"c","type":"nominal","scale":{"domain":["Cereals","Viticulture","Vegetables","Other"],"range":["#33a02c","#984ea3","#ff7f00","#999999"]},"legend":null}}}
    ]},
    {"width":234,"height":217,"resolve":{"axis":{"x":"independent"}},"layer":[
     {"data":{"name":"pts"},"transform":[{"filter":"datum.p=='TCS'"}],"mark":{"type":"circle","size":14,"opacity":0.4},
      "encoding":{
       "x":{"field":"d","type":"quantitative","scale":{"domain":[-0.75,5.75],"nice":false,"zero":false,"reverse":true},"axis":{"values":[0,1,2,3,4,5],"format":"d","gridWidth":1.4,"title":"(Stream water)","titleX":207,"titleY":33,"titleBaseline":"middle","titleAlign":"center"}},
       "y":{"field":"v","type":"quantitative","scale":{"domain":[-1.29,26.68],"nice":false,"zero":false},"axis":{"values":[0,2.5,5,7.5,10,12.5,15,17.5,20,22.5,25],"labelExpr":"datum.value == 0 ? '//' : ''","gridWidth":{"condition":{"test":"datum.value % 5 != 0","value":0.7},"value":1.4},"title":"Distance [m]","titleAngle":0,"titleX":-12,"titleY":250,"titleBaseline":"middle","titleAlign":"center","ticks":true,"tickSize":10,"tickColor":"#111","tickWidth":1,"tickOpacity":{"condition":{"test":"datum.value == 0","value":1},"value":0},"offset":12,"labelPadding":-10,"labelFontSize":15}},
       "color":{"field":"c","type":"nominal","scale":{"domain":["Cereals","Viticulture","Vegetables","Other"],"range":["#33a02c","#984ea3","#ff7f00","#999999"]},"legend":null}}},
     {"data":{"name":"box"},"transform":[{"filter":"datum.p=='TCS'"},{"calculate":"datum.d - (datum.c=='Cereals' ? -0.11 : datum.c=='Viticulture' ? -0.04 : datum.c=='Other' ? 0.02 : 0.08)","as":"d"}],
      "encoding":{"x":{"field":"d","type":"quantitative","axis":null}},
      "layer":[
       {"mark":{"type":"rule","color":"#222","strokeWidth":1.2},"encoding":{"y":{"field":"lo","type":"quantitative"},"y2":{"field":"hi"}}},
       {"mark":{"type":"bar","orient":"vertical","width":5,"stroke":"#111","strokeWidth":0.7},"encoding":{"y":{"field":"q1","type":"quantitative"},"y2":{"field":"q3"},"color":{"field":"c","type":"nominal","scale":{"domain":["Cereals","Viticulture","Vegetables","Other"],"range":["#33a02c","#984ea3","#ff7f00","#999999"]},"legend":null}}},
       {"mark":{"type":"tick","orient":"horizontal","size":5,"thickness":1.2,"color":"#111"},"encoding":{"y":{"field":"md","type":"quantitative"}}}
      ]},
     {"data":{"name":"fit"},"transform":[{"filter":"datum.p=='TCS'"}],"mark":{"type":"line","strokeWidth":2.6},"encoding":{"x":{"field":"d","type":"quantitative","axis":{"orient":"top","values":[-0.5,0.5,1.5,2.5,3.5,4.5,5.5],"labels":false,"ticks":false,"domain":false,"title":null,"grid":true,"gridWidth":0.7}},"y":{"field":"v","type":"quantitative"},"color":{"field":"c","type":"nominal","scale":{"domain":["Cereals","Viticulture","Vegetables","Other"],"range":["#33a02c","#984ea3","#ff7f00","#999999"]},"legend":null}}},
     {"data":{"name":"mean"},"transform":[{"filter":"datum.p=='TCS'"}],"mark":{"type":"point","filled":true,"size":120,"stroke":"#111","strokeWidth":0.9,"opacity":1},"encoding":{"x":{"field":"d","type":"quantitative","axis":null},"y":{"field":"v","type":"quantitative"},"fill":{"field":"c","type":"nominal","scale":{"domain":["Cereals","Viticulture","Vegetables","Other"],"range":["#33a02c","#984ea3","#ff7f00","#999999"]},"legend":null}}}
    ]},
    {"width":2,"height":217,"data":{"values":[]},"mark":"point"},
    {"width":234,"height":217,"resolve":{"axis":{"x":"independent"}},"layer":[
     {"data":{"name":"pts"},"transform":[{"filter":"datum.p=='TLF'"}],"mark":{"type":"circle","size":14,"opacity":0.4},
      "encoding":{
       "x":{"field":"d","type":"quantitative","scale":{"domain":[-0.75,5.75],"nice":false,"zero":false},"axis":{"values":[0,1,2,3,4,5],"format":"d","gridWidth":1.4,"title":"(Field)","titleX":27,"titleY":33,"titleBaseline":"middle","titleAlign":"center"}},
       "y":{"field":"v","type":"quantitative","scale":{"domain":[-5.83,10.45],"nice":false,"zero":false},"axis":{"values":[-5,-2.5,0,2.5,5,7.5,10],"labelExpr":"datum.value % 5 ? '' : '' + datum.value","gridWidth":{"condition":{"test":"datum.value % 5 != 0","value":0.7},"value":1.4},"title":"log(sum concentration [µg/kg])","titleFontSize":15,"labelPadding":4,"titlePadding":4}},
       "color":{"field":"c","type":"nominal","scale":{"domain":["Cereals","Viticulture","Vegetables","Other"],"range":["#33a02c","#984ea3","#ff7f00","#999999"]},"legend":null}}},
     {"data":{"name":"box"},"transform":[{"filter":"datum.p=='TLF'"},{"calculate":"datum.d + (datum.c=='Cereals' ? -0.11 : datum.c=='Viticulture' ? -0.04 : datum.c=='Other' ? 0.02 : 0.08)","as":"d"}],
      "encoding":{"x":{"field":"d","type":"quantitative","axis":null}},
      "layer":[
       {"mark":{"type":"rule","color":"#222","strokeWidth":1.2},"encoding":{"y":{"field":"lo","type":"quantitative"},"y2":{"field":"hi"}}},
       {"mark":{"type":"bar","orient":"vertical","width":5,"stroke":"#111","strokeWidth":0.7},"encoding":{"y":{"field":"q1","type":"quantitative"},"y2":{"field":"q3"},"color":{"field":"c","type":"nominal","scale":{"domain":["Cereals","Viticulture","Vegetables","Other"],"range":["#33a02c","#984ea3","#ff7f00","#999999"]},"legend":null}}},
       {"mark":{"type":"tick","orient":"horizontal","size":5,"thickness":1.2,"color":"#111"},"encoding":{"y":{"field":"md","type":"quantitative"}}}
      ]},
     {"data":{"name":"fit"},"transform":[{"filter":"datum.p=='TLF'"}],"mark":{"type":"line","strokeWidth":2.6},"encoding":{"x":{"field":"d","type":"quantitative","axis":{"orient":"top","values":[-0.5,0.5,1.5,2.5,3.5,4.5,5.5],"labels":false,"ticks":false,"domain":false,"title":null,"grid":true,"gridWidth":0.7}},"y":{"field":"v","type":"quantitative"},"color":{"field":"c","type":"nominal","scale":{"domain":["Cereals","Viticulture","Vegetables","Other"],"range":["#33a02c","#984ea3","#ff7f00","#999999"]},"legend":null}}},
     {"data":{"name":"mean"},"transform":[{"filter":"datum.p=='TLF'"}],"mark":{"type":"point","filled":true,"size":120,"stroke":"#111","strokeWidth":0.9,"opacity":1},"encoding":{"x":{"field":"d","type":"quantitative","axis":null},"y":{"field":"v","type":"quantitative"},"fill":{"field":"c","type":"nominal","scale":{"domain":["Cereals","Viticulture","Vegetables","Other"],"range":["#33a02c","#984ea3","#ff7f00","#999999"]},"legend":null}}}
    ]},
    {"width":234,"height":217,"resolve":{"axis":{"x":"independent"}},"layer":[
     {"data":{"name":"pts"},"transform":[{"filter":"datum.p=='TLS'"}],"mark":{"type":"circle","size":14,"opacity":0.4},
      "encoding":{
       "x":{"field":"d","type":"quantitative","scale":{"domain":[-0.75,5.75],"nice":false,"zero":false,"reverse":true},"axis":{"values":[0,1,2,3,4,5],"format":"d","gridWidth":1.4,"title":"(Stream water)","titleX":207,"titleY":33,"titleBaseline":"middle","titleAlign":"center"}},
       "y":{"field":"v","type":"quantitative","scale":{"domain":[-5.83,10.45],"nice":false,"zero":false},"axis":{"values":[-5,-2.5,0,2.5,5,7.5,10],"labelExpr":"datum.value == -5 ? '//' : ''","gridWidth":{"condition":{"test":"datum.value % 5 != 0","value":0.7},"value":1.4},"title":"Distance [m]","titleAngle":0,"titleX":-6,"titleY":250,"titleBaseline":"middle","titleAlign":"center","ticks":true,"tickSize":10,"tickColor":"#111","tickWidth":1,"tickOpacity":{"condition":{"test":"datum.value == -5","value":1},"value":0},"offset":12,"labelPadding":-10,"labelFontSize":15}},
       "color":{"field":"c","type":"nominal","scale":{"domain":["Cereals","Viticulture","Vegetables","Other"],"range":["#33a02c","#984ea3","#ff7f00","#999999"]},"legend":null}}},
     {"data":{"name":"box"},"transform":[{"filter":"datum.p=='TLS'"},{"calculate":"datum.d - (datum.c=='Cereals' ? -0.11 : datum.c=='Viticulture' ? -0.04 : datum.c=='Other' ? 0.02 : 0.08)","as":"d"}],
      "encoding":{"x":{"field":"d","type":"quantitative","axis":null}},
      "layer":[
       {"mark":{"type":"rule","color":"#222","strokeWidth":1.2},"encoding":{"y":{"field":"lo","type":"quantitative"},"y2":{"field":"hi"}}},
       {"mark":{"type":"bar","orient":"vertical","width":5,"stroke":"#111","strokeWidth":0.7},"encoding":{"y":{"field":"q1","type":"quantitative"},"y2":{"field":"q3"},"color":{"field":"c","type":"nominal","scale":{"domain":["Cereals","Viticulture","Vegetables","Other"],"range":["#33a02c","#984ea3","#ff7f00","#999999"]},"legend":null}}},
       {"mark":{"type":"tick","orient":"horizontal","size":5,"thickness":1.2,"color":"#111"},"encoding":{"y":{"field":"md","type":"quantitative"}}}
      ]},
     {"data":{"name":"fit"},"transform":[{"filter":"datum.p=='TLS'"}],"mark":{"type":"line","strokeWidth":2.6},"encoding":{"x":{"field":"d","type":"quantitative","axis":{"orient":"top","values":[-0.5,0.5,1.5,2.5,3.5,4.5,5.5],"labels":false,"ticks":false,"domain":false,"title":null,"grid":true,"gridWidth":0.7}},"y":{"field":"v","type":"quantitative"},"color":{"field":"c","type":"nominal","scale":{"domain":["Cereals","Viticulture","Vegetables","Other"],"range":["#33a02c","#984ea3","#ff7f00","#999999"]},"legend":null}}},
     {"data":{"name":"mean"},"transform":[{"filter":"datum.p=='TLS'"}],"mark":{"type":"point","filled":true,"size":120,"stroke":"#111","strokeWidth":0.9,"opacity":1},"encoding":{"x":{"field":"d","type":"quantitative","axis":null},"y":{"field":"v","type":"quantitative"},"fill":{"field":"c","type":"nominal","scale":{"domain":["Cereals","Viticulture","Vegetables","Other"],"range":["#33a02c","#984ea3","#ff7f00","#999999"]},"legend":null}}}
    ]}
   ]}
  ],"spacing":13}
 ]},
 {"width":1168,"height":1,"view":{"fill":"#222","stroke":null},"data":{"values":[]},"mark":"point"},
 {"hconcat":[
  {"width":1,"height":380,"view":{"fill":"#222","stroke":null},"data":{"values":[]},"mark":"point"},
  {"resolve":{"legend":{"fill":"independent"}},"vconcat":[
   {"width":1167,"height":54,"data":{"values":[{"t":"Vegetation"}]},"mark":{"type":"text","fontSize":24,"color":"#111"},"encoding":{"text":{"field":"t"}}},
   {"bounds":"flush","spacing":35,"hconcat":[
    {"width":21,"height":217,"data":{"values":[]},"mark":"point"},
    {"width":234,"height":217,"resolve":{"axis":{"x":"independent"}},"layer":[
     {"data":{"name":"pts"},"transform":[{"filter":"datum.p=='VCF'"}],"mark":{"type":"circle","size":14,"opacity":0.4},
      "encoding":{
       "x":{"field":"d","type":"quantitative","scale":{"domain":[-0.75,5.75],"nice":false,"zero":false},"axis":{"values":[0,1,2,3,4,5],"format":"d","gridWidth":1.4,"title":"(Field)","titleX":27,"titleY":33,"titleBaseline":"middle","titleAlign":"center"}},
       "y":{"field":"v","type":"quantitative","scale":{"domain":[-1.29,26.68],"nice":false,"zero":false},"axis":{"values":[0,2.5,5,7.5,10,12.5,15,17.5,20,22.5,25],"labelExpr":"datum.value % 5 ? '' : '' + datum.value","gridWidth":{"condition":{"test":"datum.value % 5 != 0","value":0.7},"value":1.4},"title":"Number of CUPs","titleFontSize":17,"labelPadding":6,"titlePadding":6}},
       "color":{"field":"c","type":"nominal","scale":{"domain":["Cereals","Viticulture","Vegetables","Other"],"range":["#33a02c","#984ea3","#ff7f00","#999999"]},"legend":null}}},
     {"data":{"name":"box"},"transform":[{"filter":"datum.p=='VCF'"},{"calculate":"datum.d + (datum.c=='Cereals' ? -0.11 : datum.c=='Viticulture' ? -0.04 : datum.c=='Other' ? 0.02 : 0.08)","as":"d"}],
      "encoding":{"x":{"field":"d","type":"quantitative","axis":null}},
      "layer":[
       {"mark":{"type":"rule","color":"#222","strokeWidth":1.2},"encoding":{"y":{"field":"lo","type":"quantitative"},"y2":{"field":"hi"}}},
       {"mark":{"type":"bar","orient":"vertical","width":5,"stroke":"#111","strokeWidth":0.7},"encoding":{"y":{"field":"q1","type":"quantitative"},"y2":{"field":"q3"},"color":{"field":"c","type":"nominal","scale":{"domain":["Cereals","Viticulture","Vegetables","Other"],"range":["#33a02c","#984ea3","#ff7f00","#999999"]},"legend":null}}},
       {"mark":{"type":"tick","orient":"horizontal","size":5,"thickness":1.2,"color":"#111"},"encoding":{"y":{"field":"md","type":"quantitative"}}}
      ]},
     {"data":{"name":"fit"},"transform":[{"filter":"datum.p=='VCF'"}],"mark":{"type":"line","strokeWidth":2.6},"encoding":{"x":{"field":"d","type":"quantitative","axis":{"orient":"top","values":[-0.5,0.5,1.5,2.5,3.5,4.5,5.5],"labels":false,"ticks":false,"domain":false,"title":null,"grid":true,"gridWidth":0.7}},"y":{"field":"v","type":"quantitative"},"color":{"field":"c","type":"nominal","scale":{"domain":["Cereals","Viticulture","Vegetables","Other"],"range":["#33a02c","#984ea3","#ff7f00","#999999"]},"legend":null}}},
     {"data":{"name":"mean"},"transform":[{"filter":"datum.p=='VCF'"}],"mark":{"type":"point","filled":true,"size":120,"stroke":"#111","strokeWidth":0.9,"opacity":1},"encoding":{"x":{"field":"d","type":"quantitative","axis":null},"y":{"field":"v","type":"quantitative"},"fill":{"field":"c","type":"nominal","scale":{"domain":["Cereals","Viticulture","Vegetables","Other"],"range":["#33a02c","#984ea3","#ff7f00","#999999"]},"legend":null}}}
    ]},
    {"width":234,"height":217,"resolve":{"axis":{"x":"independent"}},"layer":[
     {"data":{"name":"pts"},"transform":[{"filter":"datum.p=='VCS'"}],"mark":{"type":"circle","size":14,"opacity":0.4},
      "encoding":{
       "x":{"field":"d","type":"quantitative","scale":{"domain":[-0.75,5.75],"nice":false,"zero":false,"reverse":true},"axis":{"values":[0,1,2,3,4,5],"format":"d","gridWidth":1.4,"title":"(Stream water)","titleX":207,"titleY":33,"titleBaseline":"middle","titleAlign":"center"}},
       "y":{"field":"v","type":"quantitative","scale":{"domain":[-1.29,26.68],"nice":false,"zero":false},"axis":{"values":[0,2.5,5,7.5,10,12.5,15,17.5,20,22.5,25],"labelExpr":"datum.value == 0 ? '//' : ''","gridWidth":{"condition":{"test":"datum.value % 5 != 0","value":0.7},"value":1.4},"title":"Distance [m]","titleAngle":0,"titleX":-12,"titleY":250,"titleBaseline":"middle","titleAlign":"center","ticks":true,"tickSize":10,"tickColor":"#111","tickWidth":1,"tickOpacity":{"condition":{"test":"datum.value == 0","value":1},"value":0},"offset":12,"labelPadding":-10,"labelFontSize":15}},
       "color":{"field":"c","type":"nominal","scale":{"domain":["Cereals","Viticulture","Vegetables","Other"],"range":["#33a02c","#984ea3","#ff7f00","#999999"]},"legend":null}}},
     {"data":{"name":"box"},"transform":[{"filter":"datum.p=='VCS'"},{"calculate":"datum.d - (datum.c=='Cereals' ? -0.11 : datum.c=='Viticulture' ? -0.04 : datum.c=='Other' ? 0.02 : 0.08)","as":"d"}],
      "encoding":{"x":{"field":"d","type":"quantitative","axis":null}},
      "layer":[
       {"mark":{"type":"rule","color":"#222","strokeWidth":1.2},"encoding":{"y":{"field":"lo","type":"quantitative"},"y2":{"field":"hi"}}},
       {"mark":{"type":"bar","orient":"vertical","width":5,"stroke":"#111","strokeWidth":0.7},"encoding":{"y":{"field":"q1","type":"quantitative"},"y2":{"field":"q3"},"color":{"field":"c","type":"nominal","scale":{"domain":["Cereals","Viticulture","Vegetables","Other"],"range":["#33a02c","#984ea3","#ff7f00","#999999"]},"legend":null}}},
       {"mark":{"type":"tick","orient":"horizontal","size":5,"thickness":1.2,"color":"#111"},"encoding":{"y":{"field":"md","type":"quantitative"}}}
      ]},
     {"data":{"name":"fit"},"transform":[{"filter":"datum.p=='VCS'"}],"mark":{"type":"line","strokeWidth":2.6},"encoding":{"x":{"field":"d","type":"quantitative","axis":{"orient":"top","values":[-0.5,0.5,1.5,2.5,3.5,4.5,5.5],"labels":false,"ticks":false,"domain":false,"title":null,"grid":true,"gridWidth":0.7}},"y":{"field":"v","type":"quantitative"},"color":{"field":"c","type":"nominal","scale":{"domain":["Cereals","Viticulture","Vegetables","Other"],"range":["#33a02c","#984ea3","#ff7f00","#999999"]},"legend":null}}},
     {"data":{"name":"mean"},"transform":[{"filter":"datum.p=='VCS'"}],"mark":{"type":"point","filled":true,"size":120,"stroke":"#111","strokeWidth":0.9,"opacity":1},"encoding":{"x":{"field":"d","type":"quantitative","axis":null},"y":{"field":"v","type":"quantitative"},"fill":{"field":"c","type":"nominal","scale":{"domain":["Cereals","Viticulture","Vegetables","Other"],"range":["#33a02c","#984ea3","#ff7f00","#999999"]},"legend":null}}}
    ]},
    {"width":2,"height":217,"data":{"values":[]},"mark":"point"},
    {"width":234,"height":217,"resolve":{"axis":{"x":"independent"}},"layer":[
     {"data":{"name":"pts"},"transform":[{"filter":"datum.p=='VLF'"}],"mark":{"type":"circle","size":14,"opacity":0.4},
      "encoding":{
       "x":{"field":"d","type":"quantitative","scale":{"domain":[-0.75,5.75],"nice":false,"zero":false},"axis":{"values":[0,1,2,3,4,5],"format":"d","gridWidth":1.4,"title":"(Field)","titleX":27,"titleY":33,"titleBaseline":"middle","titleAlign":"center"}},
       "y":{"field":"v","type":"quantitative","scale":{"domain":[-5.83,10.45],"nice":false,"zero":false},"axis":{"values":[-5,-2.5,0,2.5,5,7.5,10],"labelExpr":"datum.value % 5 ? '' : '' + datum.value","gridWidth":{"condition":{"test":"datum.value % 5 != 0","value":0.7},"value":1.4},"title":"log(sum concentration [µg/kg])","titleFontSize":15,"labelPadding":4,"titlePadding":4}},
       "color":{"field":"c","type":"nominal","scale":{"domain":["Cereals","Viticulture","Vegetables","Other"],"range":["#33a02c","#984ea3","#ff7f00","#999999"]},"legend":null}}},
     {"data":{"name":"box"},"transform":[{"filter":"datum.p=='VLF'"},{"calculate":"datum.d + (datum.c=='Cereals' ? -0.11 : datum.c=='Viticulture' ? -0.04 : datum.c=='Other' ? 0.02 : 0.08)","as":"d"}],
      "encoding":{"x":{"field":"d","type":"quantitative","axis":null}},
      "layer":[
       {"mark":{"type":"rule","color":"#222","strokeWidth":1.2},"encoding":{"y":{"field":"lo","type":"quantitative"},"y2":{"field":"hi"}}},
       {"mark":{"type":"bar","orient":"vertical","width":5,"stroke":"#111","strokeWidth":0.7},"encoding":{"y":{"field":"q1","type":"quantitative"},"y2":{"field":"q3"},"color":{"field":"c","type":"nominal","scale":{"domain":["Cereals","Viticulture","Vegetables","Other"],"range":["#33a02c","#984ea3","#ff7f00","#999999"]},"legend":null}}},
       {"mark":{"type":"tick","orient":"horizontal","size":5,"thickness":1.2,"color":"#111"},"encoding":{"y":{"field":"md","type":"quantitative"}}}
      ]},
     {"data":{"name":"fit"},"transform":[{"filter":"datum.p=='VLF'"}],"mark":{"type":"line","strokeWidth":2.6},"encoding":{"x":{"field":"d","type":"quantitative","axis":{"orient":"top","values":[-0.5,0.5,1.5,2.5,3.5,4.5,5.5],"labels":false,"ticks":false,"domain":false,"title":null,"grid":true,"gridWidth":0.7}},"y":{"field":"v","type":"quantitative"},"color":{"field":"c","type":"nominal","scale":{"domain":["Cereals","Viticulture","Vegetables","Other"],"range":["#33a02c","#984ea3","#ff7f00","#999999"]},"legend":null}}},
     {"data":{"name":"mean"},"transform":[{"filter":"datum.p=='VLF'"}],"mark":{"type":"point","filled":true,"size":120,"stroke":"#111","strokeWidth":0.9,"opacity":1},"encoding":{"x":{"field":"d","type":"quantitative","axis":null},"y":{"field":"v","type":"quantitative"},"fill":{"field":"c","type":"nominal","scale":{"domain":["Cereals","Viticulture","Vegetables","Other"],"range":["#33a02c","#984ea3","#ff7f00","#999999"]},"legend":null}}}
    ]},
    {"width":234,"height":217,"resolve":{"axis":{"x":"independent"}},"layer":[
     {"data":{"name":"pts"},"transform":[{"filter":"datum.p=='VLS'"}],"mark":{"type":"circle","size":14,"opacity":0.4},
      "encoding":{
       "x":{"field":"d","type":"quantitative","scale":{"domain":[-0.75,5.75],"nice":false,"zero":false,"reverse":true},"axis":{"values":[0,1,2,3,4,5],"format":"d","gridWidth":1.4,"title":"(Stream water)","titleX":207,"titleY":33,"titleBaseline":"middle","titleAlign":"center"}},
       "y":{"field":"v","type":"quantitative","scale":{"domain":[-5.83,10.45],"nice":false,"zero":false},"axis":{"values":[-5,-2.5,0,2.5,5,7.5,10],"labelExpr":"datum.value == -5 ? '//' : ''","gridWidth":{"condition":{"test":"datum.value % 5 != 0","value":0.7},"value":1.4},"title":"Distance [m]","titleAngle":0,"titleX":-6,"titleY":250,"titleBaseline":"middle","titleAlign":"center","ticks":true,"tickSize":10,"tickColor":"#111","tickWidth":1,"tickOpacity":{"condition":{"test":"datum.value == -5","value":1},"value":0},"offset":12,"labelPadding":-10,"labelFontSize":15}},
       "color":{"field":"c","type":"nominal","scale":{"domain":["Cereals","Viticulture","Vegetables","Other"],"range":["#33a02c","#984ea3","#ff7f00","#999999"]},"legend":null}}},
     {"data":{"name":"box"},"transform":[{"filter":"datum.p=='VLS'"},{"calculate":"datum.d - (datum.c=='Cereals' ? -0.11 : datum.c=='Viticulture' ? -0.04 : datum.c=='Other' ? 0.02 : 0.08)","as":"d"}],
      "encoding":{"x":{"field":"d","type":"quantitative","axis":null}},
      "layer":[
       {"mark":{"type":"rule","color":"#222","strokeWidth":1.2},"encoding":{"y":{"field":"lo","type":"quantitative"},"y2":{"field":"hi"}}},
       {"mark":{"type":"bar","orient":"vertical","width":5,"stroke":"#111","strokeWidth":0.7},"encoding":{"y":{"field":"q1","type":"quantitative"},"y2":{"field":"q3"},"color":{"field":"c","type":"nominal","scale":{"domain":["Cereals","Viticulture","Vegetables","Other"],"range":["#33a02c","#984ea3","#ff7f00","#999999"]},"legend":null}}},
       {"mark":{"type":"tick","orient":"horizontal","size":5,"thickness":1.2,"color":"#111"},"encoding":{"y":{"field":"md","type":"quantitative"}}}
      ]},
     {"data":{"name":"fit"},"transform":[{"filter":"datum.p=='VLS'"}],"mark":{"type":"line","strokeWidth":2.6},"encoding":{"x":{"field":"d","type":"quantitative","axis":{"orient":"top","values":[-0.5,0.5,1.5,2.5,3.5,4.5,5.5],"labels":false,"ticks":false,"domain":false,"title":null,"grid":true,"gridWidth":0.7}},"y":{"field":"v","type":"quantitative"},"color":{"field":"c","type":"nominal","scale":{"domain":["Cereals","Viticulture","Vegetables","Other"],"range":["#33a02c","#984ea3","#ff7f00","#999999"]},"legend":null}}},
     {"data":{"name":"mean"},"transform":[{"filter":"datum.p=='VLS'"}],"mark":{"type":"point","filled":true,"size":120,"stroke":"#111","strokeWidth":0.9,"opacity":1},"encoding":{"x":{"field":"d","type":"quantitative","axis":null},"y":{"field":"v","type":"quantitative"},"fill":{"field":"c","type":"nominal","scale":{"domain":["Cereals","Viticulture","Vegetables","Other"],"range":["#33a02c","#984ea3","#ff7f00","#999999"]},"legend":null}}}
    ]}
   ]},
   {"width":1167,"height":30,"data":{"values":[{"c":"Cereals"},{"c":"Viticulture"},{"c":"Vegetables"},{"c":"Other"}]},"transform":[{"filter":"datum.c == 'none'"}],"mark":{"type":"point","filled":true,"shape":"square","stroke":"#111","strokeWidth":1},"encoding":{"fill":{"field":"c","type":"nominal","scale":{"domain":["Cereals","Viticulture","Vegetables","Other"],"range":["#33a02c","#984ea3","#ff7f00","#999999"]},"title":"Crop type group:","legend":{"orient":"none","legendX":352,"legendY":3,"direction":"horizontal","titleOrient":"left","titleFontSize":18,"titleFontWeight":"normal","titleColor":"#111","labelFontSize":17,"labelColor":"#111","symbolType":"square","symbolSize":190,"symbolStrokeColor":"#111","symbolStrokeWidth":1,"symbolOpacity":1,"columnPadding":12,"labelOffset":8,"titlePadding":10}}}}
  ],"spacing":13}
 ]}
]
}
